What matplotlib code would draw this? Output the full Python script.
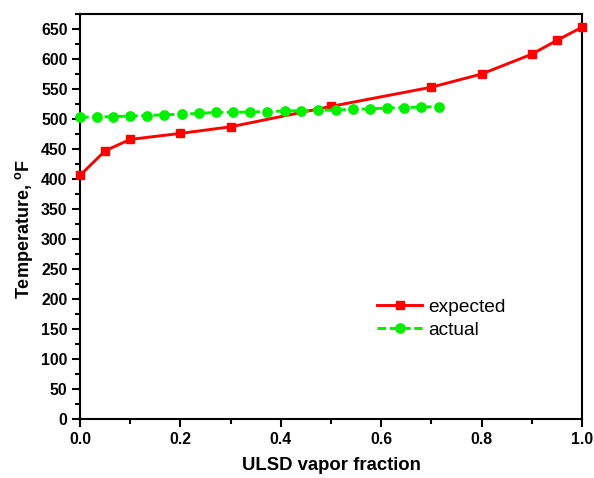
import matplotlib
matplotlib.use("Agg")
import matplotlib.pyplot as plt
from matplotlib.ticker import MultipleLocator, FormatStrFormatter

plt.rcParams['font.family'] = ['Liberation Sans', 'DejaVu Sans']

expected_x = [0.0, 0.05, 0.1, 0.2, 0.3, 0.5, 0.7, 0.8, 0.9, 0.95, 1.0]
expected_y = [406, 447, 466, 476, 487, 521, 553, 575, 608, 631, 653]

actual_x = [0.0, 0.033, 0.066, 0.100, 0.134, 0.168, 0.203, 0.237, 0.271, 0.305, 0.339,
            0.372, 0.408, 0.441, 0.475, 0.510, 0.544, 0.578, 0.612, 0.646, 0.680, 0.715]
actual_y = [503, 503.4, 504, 505, 505.6, 507.3, 507.8, 509.5, 511, 511, 511.7,
            512.3, 513.4, 514, 514.5, 515, 516, 517, 518.3, 519, 520, 520.6]

x_label = "ULSD vapor fraction"
y_label = "Temperature, $^{\\mathregular{o}}$F"
series_names = ["expected", "actual"]

fig = plt.figure(figsize=(5.94, 4.78), dpi=100)
ax = fig.add_axes([80/594, 1-419/478, 502/594, (419-14)/478])

ax.plot(expected_x, expected_y, color='#ff0000', lw=2.1, marker='s', ms=6.2,
        label=series_names[0], clip_on=False, zorder=3)
ax.plot(actual_x, actual_y, color='#00f000', lw=2.1, ls=(0, (3, 1.2)), marker='o', ms=6.7,
        label=series_names[1], clip_on=False, zorder=3)

ax.set_xlim(0, 1.0)
ax.set_ylim(0, 675)
ax.xaxis.set_major_locator(MultipleLocator(0.2))
ax.xaxis.set_minor_locator(MultipleLocator(0.1))
ax.yaxis.set_minor_locator(MultipleLocator(25))
ax.set_yticks(range(0, 651, 50))
ax.xaxis.set_major_formatter(FormatStrFormatter('%.1f'))

ax.tick_params(which='major', direction='out', length=6, width=1.5, labelsize=11.4, pad=3)
ax.tick_params(which='minor', direction='out', length=3.5, width=1.5)
ax.tick_params(top=False, right=False)
for lab in ax.get_xticklabels() + ax.get_yticklabels():
    lab.set_fontweight('bold')
for s in ax.spines.values():
    s.set_linewidth(1.5)

ax.set_xlabel(x_label, fontsize=13.3, fontweight='bold', va='center')
ax.xaxis.set_label_coords(0.501, -0.116)
ax.set_ylabel(y_label, fontsize=13, fontweight='bold', va='center')
ax.yaxis.set_label_coords(-0.1116, 0.47)

ax.legend(loc='center left', bbox_to_anchor=(0.5916, 0.2477), frameon=False, fontsize=13.8,
          handlelength=2.35, handletextpad=0.3, labelspacing=0.3, borderaxespad=0,
          borderpad=0, markerscale=1.0)

fig.savefig("out.png", dpi=100)
